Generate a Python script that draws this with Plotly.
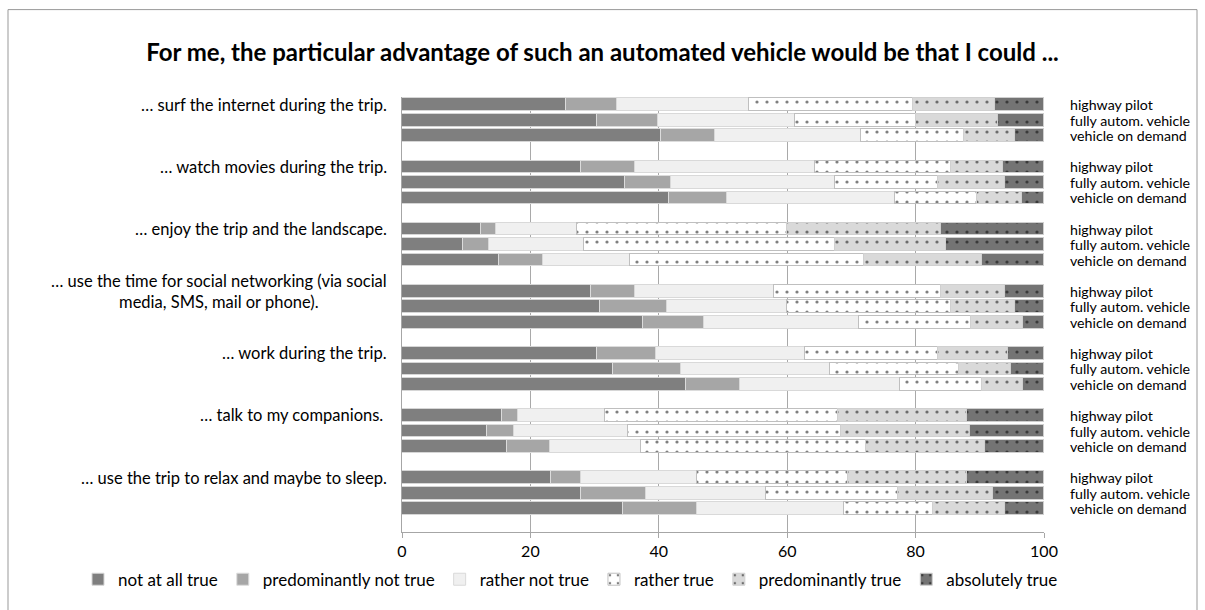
import plotly.graph_objects as go

items = [
    "… surf the internet during the trip.",
    "… watch movies during the trip.",
    "… enjoy the trip and the landscape.",
    "… use the time for social networking (via social<br>media, SMS, mail or phone).",
    "… work during the trip.",
    "… talk to my companions. ",
    "… use the trip to relax and maybe to sleep.",
]
vehicles = ["highway pilot", "fully autom. vehicle", "vehicle on demand"]
levels = ["not at all true", "predominantly not true", "rather not true",
          "rather true", "predominantly true", "absolutely true"]

# values in order: item x vehicle (hp, fa, vd)
not_at_all_true = [25.5, 30.4, 40.4, 27.9, 34.7, 41.6, 12.3, 9.5, 15.1,
                   29.5, 30.8, 37.5, 30.4, 32.8, 44.3, 15.5, 13.2, 16.4,
                   23.2, 27.9, 34.4]
predominantly_not_true = [8.0, 9.5, 8.4, 8.4, 7.2, 9.1, 2.4, 4.0, 6.8,
                          6.8, 10.4, 9.6, 9.1, 10.7, 8.4, 2.5, 4.3, 6.7,
                          4.7, 10.1, 11.5]
rather_not_true = [20.5, 21.3, 22.7, 28.0, 25.6, 26.1, 12.5, 14.8, 13.6,
                   21.6, 18.8, 24.1, 23.3, 23.2, 24.9, 13.6, 17.7, 14.1,
                   18.1, 18.7, 22.9]
rather_true = [25.6, 18.8, 16.0, 21.2, 16.0, 12.8, 32.7, 39.2, 36.5,
               26.1, 25.5, 17.5, 20.7, 20.0, 12.8, 36.3, 33.2, 35.1,
               23.5, 20.5, 13.9]
predominantly_true = [12.8, 12.9, 8.0, 8.1, 10.5, 6.9, 24.1, 17.3, 18.4,
                      10.0, 10.0, 8.0, 10.9, 8.1, 6.4, 20.1, 20.0, 18.5,
                      18.5, 14.8, 11.3]
absolutely_true = [7.6, 7.1, 4.5, 6.4, 6.0, 3.5, 16.0, 15.2, 9.6,
                   6.0, 4.5, 3.3, 5.6, 5.2, 3.2, 12.0, 11.6, 9.2,
                   12.0, 8.0, 6.0]

series = [not_at_all_true, predominantly_not_true, rather_not_true,
          rather_true, predominantly_true, absolutely_true]
fills = ["#7f7f7f", "#a6a6a6", "#f0f0f0", "#ffffff", "#d9d9d9", "#747474"]
lines = ["#d6d6d6", "#dcdcdc", "#d9d9d9", "#bfbfbf", "#d0d0d0", "#cfcfcf"]
dotted = [False, False, False, True, True, True]

SLOTS = 4  # 3 bars + 1 gap per item
ypos = [g * SLOTS + v for g in range(len(items)) for v in range(len(vehicles))]

FONT = "Lato"
fig = go.Figure()
for name, vals, fc, lc, dt in zip(levels, series, fills, lines, dotted):
    marker = dict(color=fc, line=dict(color=lc, width=1))
    if dt:
        marker["pattern"] = dict(shape=".", fgcolor="#000000", bgcolor=fc,
                                 size=10, solidity=0.08, fillmode="overlay")
    fig.add_trace(go.Bar(x=vals, y=ypos, orientation="h", name=name,
                         marker=marker, width=0.82))

# margins define plot area in pixels
W, H = 1205, 610
ML, MR, MT, MB = 402, 161, 97, 75
pw, ph = W - ML - MR, H - MT - MB

annotations = []
for g, label in enumerate(items):
    annotations.append(dict(x=0, y=g * SLOTS, xref="paper", yref="y", text=label,
                            showarrow=False, xanchor="right", align="center",
                            xshift=-13, font=dict(family=FONT, size=16.5, color="#000")))
    for v, vn in enumerate(vehicles):
        annotations.append(dict(x=1, y=g * SLOTS + v, xref="paper", yref="y", text=vn,
                                showarrow=False, xanchor="left", align="left",
                                xshift=24, font=dict(family=FONT, size=14.2, color="#000")))

# outer frame
fx0 = (8 - ML) / pw
fx1 = (1197 - ML) / pw
fy1 = (H - MB - 9) / ph
fy0 = (H - MB - 640) / ph

fig.update_layout(
    width=W, height=H,
    margin=dict(l=ML, r=MR, t=MT, b=MB),
    paper_bgcolor="white", plot_bgcolor="white",
    barmode="stack", bargap=0,
    title=dict(text="<b>For me, the particular advantage of such an automated vehicle would be that I could ...</b>",
               x=0.5, xanchor="center", y=1 - 53 / H, yanchor="middle",
               font=dict(family=FONT, size=24, color="#000")),
    font=dict(family=FONT, size=16, color="#000"),
    xaxis=dict(range=[0, 100], dtick=20, showgrid=True, gridcolor="#a9a9a9", gridwidth=1,
               showline=True, linecolor="#a6a6a6", ticks="outside", ticklen=5,
               tickcolor="#a6a6a6", tickfont=dict(family=FONT, size=16, color="#000"),
               zeroline=False, fixedrange=True),
    yaxis=dict(range=[SLOTS * len(items) - 0.5, -0.5], showticklabels=False,
               showgrid=False, zeroline=False, showline=True, linecolor="#a6a6a6",
               ticks="", fixedrange=True),
    legend=dict(orientation="h", x=(78 - ML) / pw, xanchor="left",
                y=-(583 - (H - MB)) / ph, yanchor="middle",
                font=dict(family=FONT, size=17, color="#000"),
                itemwidth=30, traceorder="normal"),
    annotations=annotations,
    shapes=[dict(type="rect", xref="paper", yref="paper", x0=fx0, x1=fx1, y0=fy0, y1=fy1,
                 line=dict(color="#999999", width=1), fillcolor="rgba(0,0,0,0)", layer="below")],
)

fig.write_html("out.html")
